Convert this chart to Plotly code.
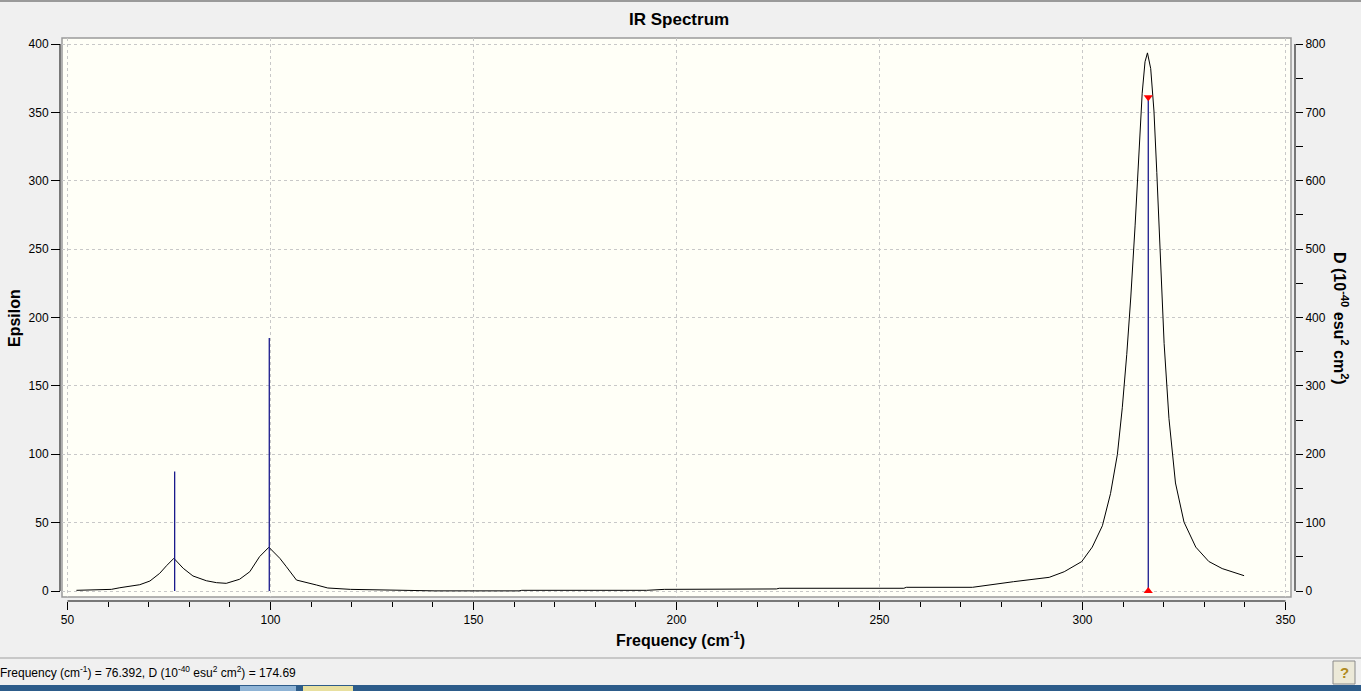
import plotly.graph_objects as go

# ---------------- data ----------------
curve_freq = [52.2, 60.8, 62.9, 67.8, 70.3, 72.7, 74.4, 76.2, 78.5, 80.9, 84.2, 86.7, 89.1,
              92.4, 94.9, 97.3, 99.6, 102.3, 103.9, 106.4, 111.3, 114.1, 119.7, 130.4, 140.5,
              161.2, 161.9, 192.6, 197.0, 224.6, 225.3, 256.0, 256.6, 272.9, 276.7, 283.0,
              291.8, 295.5, 299.8, 302.4, 304.9, 306.9, 308.6, 309.8, 310.9, 311.9, 312.95,
              313.9, 314.7, 315.4, 316.0, 316.8, 317.6, 318.3, 319.1, 320.1, 321.3, 322.9,
              325.0, 327.9, 331.1, 334.4, 339.8]
curve_eps = [0.5, 1.2, 2.4, 4.6, 7.3, 12.9, 18.5, 23.9, 16.6, 11.0, 7.5, 6.1, 5.6,
             8.6, 14.1, 25.1, 32.0, 23.9, 17.8, 8.0, 4.4, 2.2, 1.2, 0.7, 0.1,
             0.1, 0.5, 0.5, 1.2, 1.5, 2.0, 2.0, 2.7, 2.7, 4.4, 6.8,
             10.0, 14.1, 21.5, 32.1, 47.7, 71.2, 100.0, 134.0, 173.0, 215.0, 267.0,
             319.0, 364.0, 387.0, 393.5, 382.0, 351.0, 306.0, 246.0, 181.0, 126.0, 79.0,
             50.4, 32.1, 21.6, 16.4, 11.2]

stick_freq = [76.392, 99.7, 316.2]
stick_D = [174.69, 370.0, 722.0]
selected = 2

x_ticks = [50, 100, 150, 200, 250, 300, 350]
eps_ticks = [0, 50, 100, 150, 200, 250, 300, 350, 400]
d_ticks = [0, 100, 200, 300, 400, 500, 600, 700, 800]

# ---------------- geometry helpers (pixels -> paper) ----------------
W, H = 1361, 691
L, R, T, B = 60, 66, 38, 90
PW, PH = W - L - R, H - T - B


def px(x):
    return (x - L) / PW


def py(y):
    return (H - B - y) / PH


FONT = "Liberation Sans, Arial, sans-serif"
PAPER = "#F0F0F0"
IVORY = "#FFFFF7"
GRID = "#C8C8C8"
NAVY = "#1A1A8C"

fig = go.Figure()

# spectrum curve
fig.add_trace(go.Scatter(x=curve_freq, y=curve_eps, mode="lines",
                         line=dict(color="black", width=1), yaxis="y",
                         hoverinfo="skip", showlegend=False))

# sticks (on the D axis)
sx, sy = [], []
for f, d in zip(stick_freq, stick_D):
    sx += [f, f, None]
    sy += [0, d, None]
fig.add_trace(go.Scatter(x=sx, y=sy, mode="lines", line=dict(color=NAVY, width=1.3),
                         yaxis="y2", hoverinfo="skip", showlegend=False))

# selection markers
fig.add_trace(go.Scatter(x=[stick_freq[selected]], y=[stick_D[selected]], mode="markers",
                         marker=dict(symbol="triangle-down", color="red", size=8,
                                     line=dict(width=0)),
                         yaxis="y2", showlegend=False, hoverinfo="skip"))
fig.add_trace(go.Scatter(x=[stick_freq[selected]], y=[0], mode="markers",
                         marker=dict(symbol="triangle-up", color="red", size=8,
                                     line=dict(width=0)),
                         yaxis="y2", showlegend=False, hoverinfo="skip"))

# axis ranges: x 50 at px 67.5, 4.06 px/unit; y 0 at px 591, 1.3675 px/unit
xr = [50 - (67.5 - 62) / 4.06, 350 + (1291 - 1285.5) / 4.06]
yr = [-6 / 1.3675, 400 + 6 / 1.3675]

dom_x = [2 / PW, 1 - 4 / PW]
dom_y = [4 / PH, 1]

tickfont = dict(family=FONT, size=12, color="black")

fig.update_layout(
    width=W, height=H,
    margin=dict(l=L, r=R, t=T, b=B, pad=0),
    paper_bgcolor=PAPER, plot_bgcolor=PAPER,
    showlegend=False,
    xaxis=dict(domain=dom_x, range=xr, anchor="free", position=0,
               tickvals=x_ticks, ticktext=[str(v) for v in x_ticks],
               ticks="outside", ticklen=8, tickwidth=1, tickcolor="black",
               tickfont=tickfont, showline=False, zeroline=False,
               showgrid=True, gridcolor=GRID, griddash="3px,3px", gridwidth=1,
               minor=dict(dtick=10, tick0=50, ticks="outside", ticklen=5,
                          tickcolor="black", showgrid=False)),
    yaxis=dict(domain=dom_y, range=yr, anchor="free", position=0,
               tickvals=eps_ticks, ticks="outside", ticklen=9, tickcolor="black",
               tickfont=tickfont, showline=False, zeroline=False,
               showgrid=True, gridcolor=GRID, griddash="3px,3px", gridwidth=1),
    yaxis2=dict(domain=dom_y, range=[2 * yr[0], 2 * yr[1]], overlaying="y",
                side="right", anchor="free", position=1,
                tickvals=d_ticks, ticks="outside", ticklen=7, tickcolor="black",
                tickfont=tickfont, showline=False, zeroline=False, showgrid=False,
                minor=dict(dtick=50, tick0=0, ticks="outside", ticklen=7,
                           tickcolor="black", showgrid=False)),
)

shapes = []
# plot frame
shapes.append(dict(type="rect", xref="x domain", yref="y domain", x0=0, x1=1, y0=0, y1=1,
                   fillcolor=IVORY, line=dict(color="#9A9A9A", width=1.5), layer="below"))
# axis lines
shapes.append(dict(type="line", xref="x", yref="paper", x0=x_ticks[0], x1=x_ticks[-1],
                   y0=0, y1=0, line=dict(color="black", width=1)))
shapes.append(dict(type="line", xref="paper", yref="y", x0=0, x1=0,
                   y0=eps_ticks[0], y1=eps_ticks[-1], line=dict(color="black", width=1)))
shapes.append(dict(type="line", xref="paper", yref="y", x0=1, x1=1,
                   y0=eps_ticks[0], y1=eps_ticks[-1], line=dict(color="black", width=1)))
# window top border
shapes.append(dict(type="line", xref="paper", yref="paper", x0=px(0), x1=px(W),
                   y0=py(1), y1=py(1), line=dict(color="#9A9A9A", width=2)))
# status bar separator
shapes.append(dict(type="line", xref="paper", yref="paper", x0=px(0), x1=px(W),
                   y0=py(658), y1=py(658), line=dict(color="#A0A0A0", width=1)))
# help button
shapes.append(dict(type="rect", xref="paper", yref="paper", x0=px(1333), x1=px(1355),
                   y0=py(684), y1=py(661), fillcolor="#ECE9D8",
                   line=dict(color="#8A8A8A", width=1)))
# taskbar
shapes.append(dict(type="rect", xref="paper", yref="paper", x0=px(0), x1=px(W),
                   y0=py(691), y1=py(685), fillcolor="#2D5C8A", line=dict(width=0)))
shapes.append(dict(type="rect", xref="paper", yref="paper", x0=px(240), x1=px(296),
                   y0=py(691), y1=py(686), fillcolor="#8FB4D6", line=dict(width=0)))
shapes.append(dict(type="rect", xref="paper", yref="paper", x0=px(303), x1=px(353),
                   y0=py(691), y1=py(686), fillcolor="#E8E0A0", line=dict(width=0)))
fig.update_layout(shapes=shapes)

ann = []
ann.append(dict(text="<b>IR Spectrum</b>", xref="paper", yref="paper", x=px(679), y=py(20),
                xanchor="center", yanchor="middle", showarrow=False,
                font=dict(family=FONT, size=17, color="black")))
ann.append(dict(text="<b>Frequency (cm<sup>-1</sup>)</b>", xref="paper", yref="paper",
                x=px(680), y=py(639), xanchor="center", yanchor="middle", showarrow=False,
                font=dict(family=FONT, size=16, color="black")))
ann.append(dict(text="<b>Epsilon</b>", xref="paper", yref="paper", x=px(14), y=py(318),
                xanchor="center", yanchor="middle", showarrow=False, textangle=-90,
                font=dict(family=FONT, size=16, color="black")))
ann.append(dict(text="<b>D (10<sup>-40</sup> esu<sup>2</sup> cm<sup>2</sup>)</b>",
                xref="paper", yref="paper", x=px(1341), y=py(318),
                xanchor="center", yanchor="middle", showarrow=False, textangle=90,
                font=dict(family=FONT, size=16, color="black")))
ann.append(dict(text=("Frequency (cm<sup>-1</sup>) = %.3f, D (10<sup>-40</sup> esu<sup>2</sup> "
                      "cm<sup>2</sup>) = %.2f" % (stick_freq[0], stick_D[0])),
                xref="paper", yref="paper", x=px(-2), y=py(672),
                xanchor="left", yanchor="middle", showarrow=False,
                font=dict(family=FONT, size=12, color="black")))
ann.append(dict(text="<b>?</b>", xref="paper", yref="paper", x=px(1344), y=py(672),
                xanchor="center", yanchor="middle", showarrow=False,
                font=dict(family=FONT, size=15, color="#B08A20")))
fig.update_layout(annotations=ann)

fig.write_html("out.html", config={"displayModeBar": False},
               post_script="document.body.style.margin='0';document.body.style.overflow='hidden';")
